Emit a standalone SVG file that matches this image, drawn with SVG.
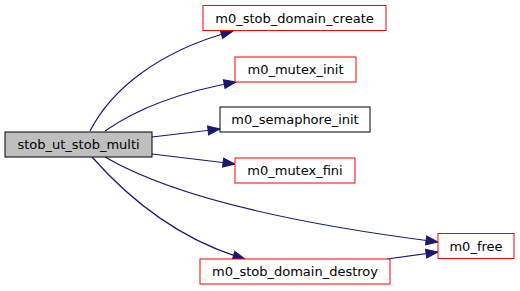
<svg xmlns="http://www.w3.org/2000/svg" width="520" height="291" viewBox="0 0 520 291">
  <style>
    .node rect { stroke-width: 1; }
    .fn rect { fill: #ffffff; stroke: #ff0000; }
    .plain rect { fill: #ffffff; stroke: #000000; }
    .root rect { fill: #bfbfbf; stroke: #000000; }
    text { font-family: "DejaVu Sans", "Liberation Sans", sans-serif; font-size: 13px; fill: #000000; text-anchor: middle; }
    .edge { fill: none; stroke: #191970; stroke-width: 1.2; marker-end: url(#arrow); }
  </style>
  <defs>
    <marker id="arrow" markerUnits="userSpaceOnUse" markerWidth="14" markerHeight="12" viewBox="0 0 14 12" refX="13" refY="6" orient="auto">
      <path d="M1,1.5 L13,6 L1,10.5 Z" fill="#191970" stroke="#191970" stroke-width="1"/>
    </marker>
  </defs>
  <rect width="520" height="291" fill="#ffffff"/>

  <g id="edges">
    <path class="edge" d="M90,131 C110,92 155,52 233,31"/>
    <path class="edge" d="M105,131 C135,110 180,92 236,82"/>
    <path class="edge" d="M152,137 L220,129"/>
    <path class="edge" d="M152,154 L235,164"/>
    <path class="edge" d="M105,157 C170,195 280,222 438,242"/>
    <path class="edge" d="M92,157 C130,200 180,240 245,259"/>
    <path class="edge" d="M387,259 L438,252"/>
  </g>

  <g id="stob_ut_stob_multi" class="node root">
    <rect x="5" y="132" width="147" height="25"/>
    <text x="78.5" y="149">stob_ut_stob_multi</text>
  </g>
  <g id="m0_stob_domain_create" class="node fn">
    <rect x="203" y="5.5" width="183" height="25"/>
    <text x="294.5" y="22.5">m0_stob_domain_create</text>
  </g>
  <g id="m0_mutex_init" class="node fn">
    <rect x="235" y="57" width="121" height="25"/>
    <text x="295.5" y="74">m0_mutex_init</text>
  </g>
  <g id="m0_semaphore_init" class="node plain">
    <rect x="220" y="107" width="150" height="25"/>
    <text x="295" y="124">m0_semaphore_init</text>
  </g>
  <g id="m0_mutex_fini" class="node fn">
    <rect x="235" y="158" width="120" height="25"/>
    <text x="295" y="175">m0_mutex_fini</text>
  </g>
  <g id="m0_free" class="node fn">
    <rect x="438" y="233.5" width="76" height="25"/>
    <text x="476" y="250.5">m0_free</text>
  </g>
  <g id="m0_stob_domain_destroy" class="node fn">
    <rect x="200" y="259" width="190" height="25"/>
    <text x="295" y="276">m0_stob_domain_destroy</text>
  </g>
</svg>
